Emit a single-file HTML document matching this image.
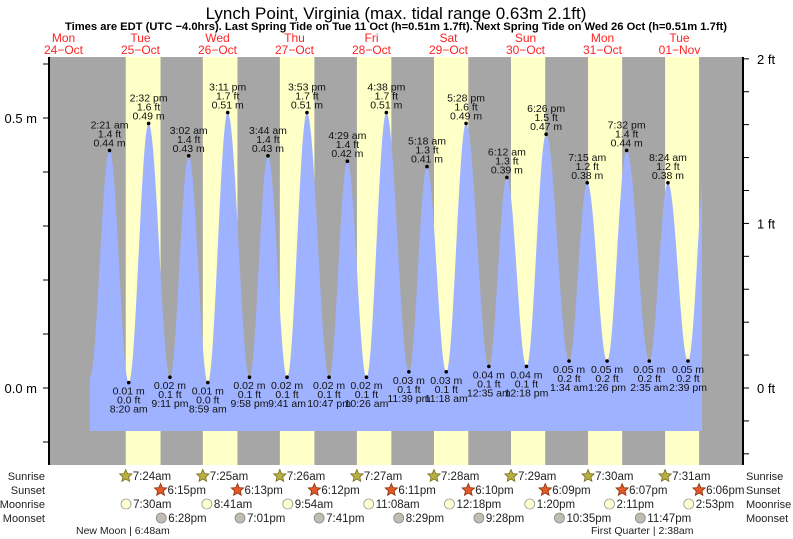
<!DOCTYPE html>
<html><head><meta charset="utf-8"><style>
body{margin:0;background:#fff;}
svg{display:block;font-family:"Liberation Sans",sans-serif;}
</style></head><body>
<svg id="chart" width="793" height="539" viewBox="0 0 793 539">
<text x="396" y="19" font-size="17" text-anchor="middle" fill="#000">Lynch Point, Virginia (max. tidal range 0.63m 2.1ft)</text>
<text x="396" y="30" font-size="11.2" font-weight="bold" text-anchor="middle" fill="#000">Times are EDT (UTC −4.0hrs). Last Spring Tide on Tue 11 Oct (h=0.51m 1.7ft). Next Spring Tide on Wed 26 Oct (h=0.51m 1.7ft)</text>
<g id="g"></g>
</svg>
<script>
const dayNames=["Mon","Tue","Wed","Thu","Fri","Sat","Sun","Mon","Tue"];
const dayDates=["24\u2212Oct","25\u2212Oct","26\u2212Oct","27\u2212Oct","28\u2212Oct","29\u2212Oct","30\u2212Oct","31\u2212Oct","01\u2212Nov"];
// tide extremes: hours since Mon 24 Oct 00:00
const tideHours=[20.2,26.35,32.33,38.53,45.18,51.03,56.98,63.18,69.97,75.73,81.68,87.88,94.78,100.48,106.43,112.63,119.65,125.3,131.3,137.47,144.58,150.2,156.3,162.43,169.57,175.25,181.43,187.53,194.58,200.4,206.65,212.6];
const tideMeters=[0.02,0.44,0.01,0.49,0.02,0.43,0.01,0.51,0.02,0.43,0.02,0.51,0.02,0.42,0.02,0.51,0.03,0.41,0.03,0.49,0.04,0.39,0.04,0.47,0.05,0.38,0.05,0.44,0.05,0.38,0.05,0.45];
const tideFeet=["0.1","1.4","0.0","1.6","0.1","1.4","0.0","1.7","0.1","1.4","0.1","1.7","0.1","1.4","0.1","1.7","0.1","1.3","0.1","1.6","0.1","1.3","0.1","1.5","0.2","1.2","0.2","1.4","0.2","1.2","0.2","1.5"];
const tideTimes=["","2:21 am","8:20 am","2:32 pm","9:11 pm","3:02 am","8:59 am","3:11 pm","9:58 pm","3:44 am","9:41 am","3:53 pm","10:47 pm","4:29 am","10:26 am","4:38 pm","11:39 pm","5:18 am","11:18 am","5:28 pm","12:35 am","6:12 am","12:18 pm","6:26 pm","1:34 am","7:15 am","1:26 pm","7:32 pm","2:35 am","8:24 am","2:39 pm",""];
const sunriseHours=[31.4,55.42,79.43,103.45,127.47,151.48,175.5,199.52,223.53];
const sunriseLabels=["7:24am","7:25am","7:26am","7:27am","7:28am","7:29am","7:30am","7:31am",""];
const sunsetHours=[42.25,66.22,90.2,114.18,138.17,162.15,186.12,210.1];
const sunsetLabels=["6:15pm","6:13pm","6:12pm","6:11pm","6:10pm","6:09pm","6:07pm","6:06pm"];
const moonriseHours=[31.5,56.68,81.9,107.13,132.3,157.33,182.18,206.88];
const moonriseLabels=["7:30am","8:41am","9:54am","11:08am","12:18pm","1:20pm","2:11pm","2:53pm"];
const moonsetHours=[42.47,67.02,91.68,116.48,141.47,166.58,191.78];
const moonsetLabels=["6:28pm","7:01pm","7:41pm","8:29pm","9:28pm","10:35pm","11:47pm"];
const leftTicks=[-0.1,0,0.1,0.2,0.3,0.4,0.5,0.6];
const rightTicks=[-0.4,-0.2,0,0.2,0.4,0.6,0.8,1,1.2,1.4,1.6,1.8,2];

const X0=50,X1=742,Y0=57,Y1=465;
const xs=h=>25+h*77/24;
const ym=m=>388-m*540;
const yf=f=>ym(f*0.3048);
const NS="http://www.w3.org/2000/svg";
const g=document.getElementById('g');
function mk(tag,at,parent){const e=document.createElementNS(NS,tag);for(const k in at)e.setAttribute(k,at[k]);(parent||g).appendChild(e);return e;}
function txt(x,y,s,at){const e=mk('text',Object.assign({x:x,y:y},at||{}));e.textContent=s;return e;}

let bg=mk('rect',{x:X0,y:Y0,width:X1-X0,height:Y1-Y0,fill:'#a6a6a6'});


for(let i=0;i<sunsetHours.length+1;i++){
  const a=Math.max(X0,xs(sunriseHours[i]));
  const b=Math.min(X1,i<sunsetHours.length?xs(sunsetHours[i]):X1);
  if(b<=a)continue;
  const r=mk('rect',{x:a,y:Y0,width:b-a,height:Y1-Y0,fill:'#ffffc8'});
  
  
}
function hAt(t){
  for(let i=0;i<tideHours.length-1;i++){
    if(t>=tideHours[i]&&t<=tideHours[i+1]){
      const f=(t-tideHours[i])/(tideHours[i+1]-tideHours[i]);
      const a=tideMeters[i],b=tideMeters[i+1];
      return a+(b-a)*(1-Math.cos(Math.PI*f))/2;
    }
  }
  return 0;
}
const tS=tideHours[0],tE=xs(211)>0?211:tideHours[tideHours.length-1];
let d='M'+xs(tS)+','+431;
for(let t=tS;t<=tE;t+=0.1)d+=' L'+xs(t).toFixed(2)+','+ym(hAt(t)).toFixed(2);
d+=' L'+xs(tE)+','+ym(hAt(tE))+' L'+xs(tE)+',431 Z';
const area=mk('path',{d:d,fill:'#9fb2ff'});



for(let i=1;i<tideHours.length-1;i++){
  const x=xs(tideHours[i]),y=ym(tideMeters[i]);
  const dot=mk('circle',{cx:x,cy:y,r:1.8,fill:'#000'});
  
  
  const high=tideMeters[i]>tideMeters[i-1];
  const at={'font-size':'10.5','text-anchor':'middle',fill:'#111'};
  const lines=high?[tideTimes[i],tideFeet[i]+' ft',tideMeters[i].toFixed(2)+' m']:[tideMeters[i].toFixed(2)+' m',tideFeet[i]+' ft',tideTimes[i]];
  const base=high?y-22:y+12;
  lines.forEach((s,k)=>{const t=txt(x,base+k*9,s,at);
    
    });
}
for(let i=0;i<dayNames.length;i++){
  const x=xs(i*24+12);
  const a=txt(x,42,dayNames[i],{'font-size':'12','text-anchor':'middle',fill:'#f22'});
  
  
  const b=txt(x,54,dayDates[i],{'font-size':'12','text-anchor':'middle',fill:'#f22'});
  
  
}
const la=mk('line',{x1:49,y1:Y0,x2:49,y2:Y1,stroke:'#000','stroke-width':2});


const ra=mk('line',{x1:743,y1:Y0,x2:743,y2:Y1,stroke:'#000','stroke-width':2});


leftTicks.forEach(v=>{const y=ym(v);mk('line',{x1:43,y1:y,x2:49,y2:y,stroke:'#000'});
  if(Math.abs(v-0.5)<1e-6||Math.abs(v)<1e-6){const t=txt(37,y+5,v.toFixed(1)+' m',{'font-size':'13','text-anchor':'end'});
    }});
rightTicks.forEach(v=>{const y=yf(v);mk('line',{x1:743,y1:y,x2:749,y2:y,stroke:'#000'});
  if(Math.abs(v-Math.round(v))<1e-6){const t=txt(757,y+5,Math.round(v)+' ft',{'font-size':'13'});
    }});

const rows=[["Sunrise",476],["Sunset",490],["Moonrise",504],["Moonset",518]];
rows.forEach(r=>{
  const a=txt(45,r[1]+4,r[0],{'font-size':'11','text-anchor':'end',fill:'#222'});
  
  const b=txt(746,r[1]+4,r[0],{'font-size':'11',fill:'#222'});
  
});
function star(cx,cy,fill,stroke){let p='';for(let k=0;k<10;k++){const rr=k%2?3:6.5;const an=-Math.PI/2+k*Math.PI/5;p+=(cx+rr*Math.cos(an)).toFixed(1)+','+(cy+rr*Math.sin(an)).toFixed(1)+' ';}
  return mk('polygon',{points:p,fill:fill,stroke:stroke,'stroke-width':0.8});}
sunriseLabels.forEach((s,i)=>{if(!s)return;const x=xs(sunriseHours[i]);const st=star(x,476,'#b8b040','#7a6a20');
  
  const t=txt(x+7,480,s,{'font-size':'11.5',fill:'#222'});});
sunsetLabels.forEach((s,i)=>{const x=xs(sunsetHours[i]);const st=star(x,490,'#e05a28','#8a3010');
  
  const t=txt(x+7,494,s,{'font-size':'11.5',fill:'#222'});});
moonriseLabels.forEach((s,i)=>{const x=xs(moonriseHours[i]);const c=mk('circle',{cx:x,cy:504,r:5,fill:'#ffffd0',stroke:'#999','stroke-width':0.8});
  
  const t=txt(x+7,508,s,{'font-size':'11.5',fill:'#222'});});
moonsetLabels.forEach((s,i)=>{const x=xs(moonsetHours[i]);const c=mk('circle',{cx:x,cy:518,r:5,fill:'#c0bcb0',stroke:'#888','stroke-width':0.8});
  
  const t=txt(x+7,522,s,{'font-size':'11.5',fill:'#222'});});
const nm=txt(76,534,'New Moon | 6:48am',{'font-size':'10.5',fill:'#222'});

const fq=txt(591,534,'First Quarter | 2:38am',{'font-size':'10.5',fill:'#222'});

</script>
</body></html>
